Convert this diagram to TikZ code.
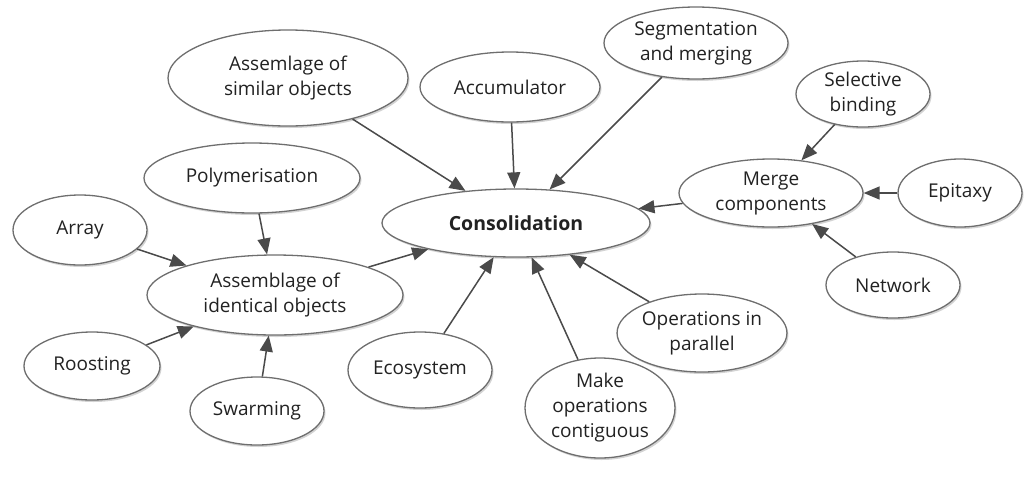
\documentclass[tikz,border=0pt]{standalone}
\usepackage{fontspec}
\setmainfont{Open Sans}
\usetikzlibrary{shapes.geometric,arrows.meta,shadows}
\definecolor{rim}{HTML}{6E6E6E}
\definecolor{arrc}{HTML}{4A4A4A}
\definecolor{txt}{HTML}{222222}
\tikzset{
  bub/.style={ellipse, draw=rim, line width=1.3pt, fill=white, inner sep=0pt,
    align=center, text=txt, font=\fontsize{19}{25}\selectfont,
    drop shadow={opacity=0.35, shadow xshift=1.5pt, shadow yshift=-2pt}},
  arr/.style={draw=arrc, line width=1.5pt, -{Triangle[length=16pt,width=13pt]}}
}
\begin{document}
\begin{tikzpicture}[x=1pt,y=-1pt]
\useasboundingbox (0,0) rectangle (1024,477);
\node[bub, minimum width=240pt, minimum height=96pt] (sim) at (288,78) {Assemlage of\\similar objects};
\node[bub, minimum width=180pt, minimum height=70pt] (acc) at (510,87) {Accumulator};
\node[bub, minimum width=184pt, minimum height=72pt] (seg) at (696,43) {Segmentation\\and merging};
\node[bub, minimum width=134pt, minimum height=66pt] (sel) at (863,94) {Selective\\binding};
\node[bub, minimum width=184pt, minimum height=68pt] (mer) at (771,193) {Merge\\components};
\node[bub, minimum width=124pt, minimum height=68pt] (epi) at (960,193) {Epitaxy};
\node[bub, minimum width=134pt, minimum height=66pt] (net) at (893,285) {Network};
\node[bub, minimum width=268pt, minimum height=68pt, font=\fontsize{19.5}{25}\selectfont\bfseries] (con) at (516,223) {Consolidation};
\node[bub, minimum width=216pt, minimum height=70pt] (pol) at (252,178) {Polymerisation};
\node[bub, minimum width=134pt, minimum height=70pt] (arr) at (80,230) {Array};
\node[bub, minimum width=256pt, minimum height=80pt] (ide) at (275,295) {Assemblage of\\identical objects};
\node[bub, minimum width=136pt, minimum height=68pt] (roo) at (92,366) {Roosting};
\node[bub, minimum width=134pt, minimum height=68pt] (swa) at (257,411) {Swarming};
\node[bub, minimum width=144pt, minimum height=76pt] (eco) at (420,370) {Ecosystem};
\node[bub, minimum width=150pt, minimum height=100pt] (mak) at (600,408) {Make\\operations\\contiguous};
\node[bub, minimum width=136pt, minimum height=78pt] (par) at (702,333) {Operations in\\parallel};
\draw[arr] (sim) -- (con);
\draw[arr] (acc) -- (con);
\draw[arr] (seg) -- (con);
\draw[arr] (sel) -- (mer);
\draw[arr] (epi) -- (mer);
\draw[arr] (net) -- (mer);
\draw[arr] (mer) -- (con);
\draw[arr] (pol) -- (ide);
\draw[arr] (arr) -- (ide);
\draw[arr] (roo) -- (ide);
\draw[arr] (swa) -- (ide);
\draw[arr] (ide) -- (con);
\draw[arr] (eco) -- (con);
\draw[arr] (mak) -- (con);
\draw[arr] (par) -- (con);
\end{tikzpicture}
\end{document}
